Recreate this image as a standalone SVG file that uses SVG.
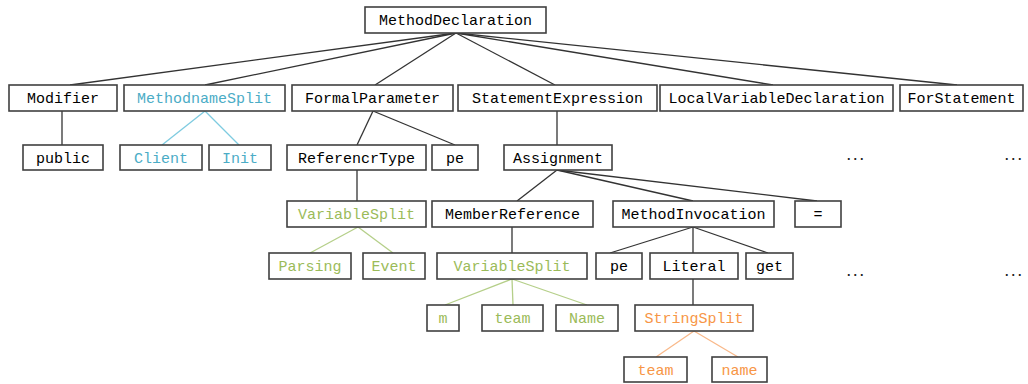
<svg xmlns="http://www.w3.org/2000/svg" width="1028" height="384" viewBox="0 0 1028 384">
<style>
rect{fill:#fff;stroke:#404040;stroke-width:1.6}
text{font-family:"Liberation Mono","DejaVu Sans Mono",monospace;font-size:15px;text-anchor:middle;fill:#000}
.b{fill:#4bacc6}.g{fill:#9bbb59}.o{fill:#f79646}
.dots{font-family:"Liberation Sans",Arial,sans-serif;font-size:18px;letter-spacing:1.5px;fill:#222}
#edges line{stroke:#333;stroke-width:1.3}
#edges line.lb{stroke:#7ecbe0}
#edges line.lg{stroke:#b5cf89}
#edges line.lo{stroke:#f9b98a}
</style>
<rect x="0" y="0" width="1028" height="384" style="fill:#fff;stroke:none"/>
<g id="edges">
<line x1="456" y1="33" x2="70" y2="85"/>
<line x1="456" y1="33" x2="205" y2="85"/>
<line x1="456" y1="33" x2="375" y2="85"/>
<line x1="456" y1="33" x2="555" y2="85"/>
<line x1="456" y1="33" x2="773" y2="85"/>
<line x1="456" y1="33" x2="957" y2="85"/>
<line x1="62" y1="111" x2="62" y2="145"/>
<line class="lb" x1="205" y1="111" x2="162" y2="145"/>
<line class="lb" x1="205" y1="111" x2="239" y2="145"/>
<line x1="373" y1="111" x2="357" y2="145"/>
<line x1="373" y1="111" x2="455" y2="145"/>
<line x1="557" y1="111" x2="557" y2="145"/>
<line x1="357" y1="170" x2="357" y2="201"/>
<line x1="557" y1="170" x2="517" y2="201"/>
<line x1="557" y1="170" x2="693" y2="201"/>
<line x1="557" y1="170" x2="817" y2="201"/>
<line class="lg" x1="358" y1="227" x2="310" y2="253"/>
<line class="lg" x1="358" y1="227" x2="393" y2="253"/>
<line x1="512" y1="227" x2="512" y2="253"/>
<line x1="693" y1="227" x2="610" y2="253"/>
<line x1="693" y1="227" x2="693" y2="253"/>
<line x1="693" y1="227" x2="768" y2="253"/>
<line class="lg" x1="512" y1="279" x2="445" y2="305"/>
<line class="lg" x1="512" y1="279" x2="513" y2="305"/>
<line class="lg" x1="512" y1="279" x2="587" y2="305"/>
<line x1="693" y1="279" x2="693" y2="305"/>
<line class="lo" x1="694" y1="331" x2="656" y2="357"/>
<line class="lo" x1="694" y1="331" x2="738" y2="357"/>
</g>
<g id="n-methoddeclaration"><rect x="365" y="7" width="181" height="26"/><text x="455.5" y="25">MethodDeclaration</text></g>
<g id="n-modifier"><rect x="9" y="85" width="108" height="26"/><text x="63" y="103">Modifier</text></g>
<g id="n-methodnamesplit"><rect x="124" y="85" width="161" height="26"/><text class="b" x="204.5" y="103">MethodnameSplit</text></g>
<g id="n-formalparameter"><rect x="292" y="85" width="161" height="26"/><text x="372.5" y="103">FormalParameter</text></g>
<g id="n-statementexpression"><rect x="458" y="85" width="199" height="26"/><text x="557.5" y="103">StatementExpression</text></g>
<g id="n-localvariabledeclaration"><rect x="660" y="85" width="233" height="26"/><text x="776.5" y="103">LocalVariableDeclaration</text></g>
<g id="n-forstatement"><rect x="900" y="85" width="123" height="26"/><text x="961.5" y="103">ForStatement</text></g>
<g id="n-public"><rect x="23" y="145" width="80" height="25"/><text x="63" y="162.5">public</text></g>
<g id="n-client"><rect x="120" y="145" width="82" height="25"/><text class="b" x="161" y="162.5">Client</text></g>
<g id="n-init"><rect x="209" y="145" width="62" height="25"/><text class="b" x="240" y="162.5">Init</text></g>
<g id="n-referencrtype"><rect x="287" y="145" width="139" height="25"/><text x="356.5" y="162.5">ReferencrType</text></g>
<g id="n-pe1"><rect x="432" y="145" width="46" height="25"/><text x="455" y="162.5">pe</text></g>
<g id="n-assignment"><rect x="504" y="145" width="108" height="25"/><text x="558" y="162.5">Assignment</text></g>
<g id="n-dots1"><text class="dots" x="856" y="160">...</text></g>
<g id="n-dots2"><text class="dots" x="1014" y="160">...</text></g>
<g id="n-variablesplit1"><rect x="287" y="201" width="139" height="26"/><text class="g" x="356.5" y="219">VariableSplit</text></g>
<g id="n-memberreference"><rect x="432" y="201" width="161" height="26"/><text x="512.5" y="219">MemberReference</text></g>
<g id="n-methodinvocation"><rect x="613" y="201" width="161" height="26"/><text x="693.5" y="219">MethodInvocation</text></g>
<g id="n-eq"><rect x="795" y="201" width="46" height="26"/><text x="818" y="219">=</text></g>
<g id="n-parsing"><rect x="269" y="253" width="82" height="26"/><text class="g" x="310" y="271">Parsing</text></g>
<g id="n-event"><rect x="363" y="253" width="62" height="26"/><text class="g" x="394" y="271">Event</text></g>
<g id="n-variablesplit2"><rect x="437" y="253" width="150" height="26"/><text class="g" x="512" y="271">VariableSplit</text></g>
<g id="n-pe2"><rect x="596" y="253" width="46" height="26"/><text x="619" y="271">pe</text></g>
<g id="n-literal"><rect x="650" y="253" width="88" height="26"/><text x="694" y="271">Literal</text></g>
<g id="n-get"><rect x="746" y="253" width="47" height="26"/><text x="769.5" y="271">get</text></g>
<g id="n-dots3"><text class="dots" x="856" y="276">...</text></g>
<g id="n-dots4"><text class="dots" x="1014" y="276">...</text></g>
<g id="n-m"><rect x="427" y="305" width="32" height="26"/><text class="g" x="443" y="323">m</text></g>
<g id="n-team1"><rect x="482" y="305" width="61" height="26"/><text class="g" x="512.5" y="323">team</text></g>
<g id="n-name1"><rect x="556" y="305" width="62" height="26"/><text class="g" x="587" y="323">Name</text></g>
<g id="n-stringsplit"><rect x="635" y="305" width="118" height="26"/><text class="o" x="694" y="323">StringSplit</text></g>
<g id="n-team2"><rect x="624" y="357" width="63" height="25"/><text class="o" x="655.5" y="374.5">team</text></g>
<g id="n-name2"><rect x="712" y="357" width="55" height="25"/><text class="o" x="739.5" y="374.5">name</text></g>
</svg>
